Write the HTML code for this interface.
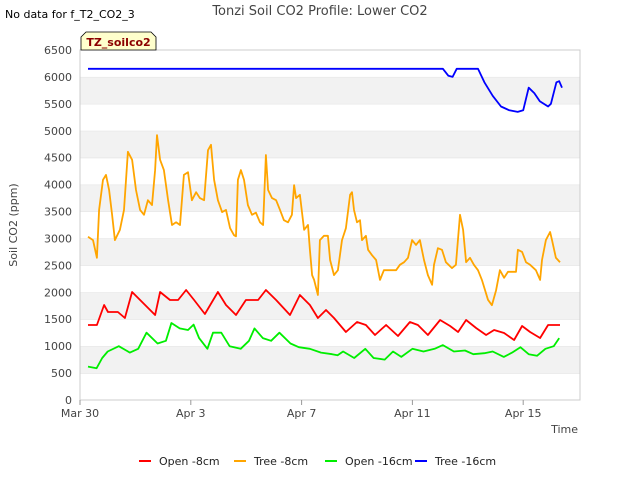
<!DOCTYPE html>
<html><head><meta charset="utf-8"><style>
body{margin:0;background:#fff;font-family:"DejaVu Sans","Liberation Sans",sans-serif;}
</style></head><body>
<svg id="chart" width="640" height="480" viewBox="0 0 640 480" xmlns="http://www.w3.org/2000/svg" font-family="DejaVu Sans, Liberation Sans, sans-serif">
<text x="5" y="18" font-size="11" fill="#000">No data for f_T2_CO2_3</text>
<text x="320" y="15" font-size="13" fill="#444" text-anchor="middle">Tonzi Soil CO2 Profile: Lower CO2</text>
<g id="bands"></g>
<rect x="80" y="50" width="500" height="350" fill="none" stroke="#ccc"/>
<g id="yticks"></g><g id="xticks"></g>
<g id="series"></g>
<g>
<path d="M81,50 L81,37 L86,32 L151,32 L156,37 L156,50 Z" fill="#ffffcc" stroke="#000" stroke-width="0.8"/>
<text x="118.5" y="46" font-size="11" font-weight="bold" fill="#8b0000" text-anchor="middle">TZ_soilco2</text>
</g>
<text transform="translate(17,225) rotate(-90)" font-size="11" fill="#444" text-anchor="middle">Soil CO2 (ppm)</text>
<text x="578" y="433" font-size="11" fill="#444" text-anchor="end">Time</text>
<g id="legend"></g>
</svg>
<script>
const yTicks=[0,500,1000,1500,2000,2500,3000,3500,4000,4500,5000,5500,6000,6500];
const xTickDays=[0,4,8,12,16];
const xTickLabels=["Mar 30","Apr 3","Apr 7","Apr 11","Apr 15"];
const seriesNames=["Open -8cm","Tree -8cm","Open -16cm","Tree -16cm"];
const seriesColors=["#ff0000","#ffa500","#00ee00","#0000ff"];
const redDays=[0.29,0.61,0.87,1.01,1.37,1.62,1.88,2.17,2.53,2.71,2.89,3.25,3.54,3.83,4.12,4.51,4.98,5.27,5.63,5.99,6.43,6.71,7.08,7.58,7.94,8.3,8.59,8.88,9.17,9.6,10,10.32,10.65,11.05,11.48,11.91,12.2,12.56,13,13.36,13.65,13.94,14.3,14.66,14.95,15.31,15.67,15.96,16.25,16.61,16.9,17.33];
const redVals=[1393,1393,1764,1634,1634,1523,2006,1857,1671,1578,2006,1857,1857,2043,1857,1597,2006,1764,1578,1857,1857,2043,1857,1578,1950,1764,1523,1671,1523,1263,1448,1393,1207,1393,1188,1448,1393,1207,1486,1374,1263,1486,1337,1207,1300,1244,1114,1374,1263,1151,1393,1393];
const orangeDays=[0.29,0.47,0.61,0.69,0.83,0.94,1.05,1.16,1.26,1.44,1.59,1.73,1.88,2.02,2.17,2.31,2.45,2.6,2.71,2.78,2.89,3.03,3.18,3.32,3.47,3.61,3.75,3.9,4.04,4.19,4.33,4.48,4.62,4.73,4.84,4.98,5.13,5.27,5.42,5.56,5.63,5.7,5.81,5.92,6.06,6.21,6.35,6.5,6.61,6.71,6.79,6.93,7.08,7.22,7.36,7.51,7.65,7.73,7.8,7.94,8.09,8.23,8.3,8.38,8.45,8.59,8.66,8.81,8.95,9.03,9.17,9.31,9.46,9.6,9.75,9.82,9.89,10,10.11,10.18,10.32,10.4,10.54,10.69,10.83,10.97,11.19,11.41,11.55,11.7,11.84,11.99,12.13,12.27,12.42,12.56,12.71,12.78,12.92,13.07,13.21,13.43,13.57,13.72,13.83,13.94,14.08,14.22,14.37,14.51,14.73,14.87,15.02,15.16,15.31,15.45,15.6,15.74,15.81,15.96,16.1,16.25,16.46,16.61,16.68,16.82,16.97,17.04,17.18,17.33];
const orangeVals=[3030,2970,2640,3530,4090,4180,3900,3440,2970,3160,3530,4610,4460,3900,3530,3440,3710,3620,4270,4920,4460,4270,3710,3250,3300,3250,4180,4230,3710,3860,3750,3710,4640,4740,4090,3710,3490,3530,3190,3060,3040,4090,4270,4090,3620,3440,3480,3300,3250,4550,3900,3750,3710,3530,3340,3300,3440,3990,3750,3810,3160,3250,2790,2320,2230,1950,2970,3050,3050,2600,2320,2410,2970,3190,3810,3860,3530,3300,3340,2970,3050,2790,2690,2600,2230,2410,2410,2410,2510,2560,2640,2970,2880,2970,2600,2320,2140,2510,2820,2790,2560,2450,2510,3440,3160,2560,2640,2510,2410,2230,1860,1760,2040,2410,2270,2380,2380,2380,2790,2750,2560,2510,2410,2230,2600,2970,3120,2970,2640,2560];
const greenDays=[0.29,0.6,0.8,1.0,1.4,1.8,2.1,2.4,2.8,3.1,3.3,3.6,3.9,4.1,4.3,4.6,4.8,5.1,5.4,5.8,6.1,6.3,6.6,6.9,7.2,7.6,7.9,8.3,8.7,9.1,9.3,9.5,9.9,10.3,10.6,11.0,11.3,11.6,12.0,12.4,12.8,13.1,13.5,13.9,14.2,14.6,14.9,15.3,15.6,15.9,16.2,16.5,16.8,17.1,17.3];
const greenVals=[620,590,780,900,1000,880,950,1250,1050,1100,1430,1330,1300,1400,1150,950,1250,1250,1000,950,1100,1330,1150,1100,1250,1050,980,950,880,850,830,900,780,950,780,750,900,800,950,900,950,1020,900,920,850,870,900,800,880,980,850,820,950,1000,1150];
const blueDays=[0.29,13.1,13.3,13.45,13.6,14.37,14.6,14.9,15.2,15.5,15.8,16.0,16.2,16.4,16.6,16.9,17.0,17.2,17.3,17.4];
const blueVals=[6150,6150,6020,6000,6150,6150,5900,5650,5450,5380,5350,5380,5800,5700,5550,5450,5500,5900,5920,5800];

const X0=80,X1=580,Y0=400,Y1=50,dayPx=27.7,YMAX=6500;
const xs=d=>X0+d*dayPx;
const ys=v=>Y0-(v/YMAX)*(Y0-Y1);
const NS="http://www.w3.org/2000/svg";
function mk(tag,attrs,parent){const e=document.createElementNS(NS,tag);for(const k in attrs)e.setAttribute(k,attrs[k]);parent.appendChild(e);return e;}
const bands=document.getElementById('bands');
for(let i=0;i<yTicks.length-1;i++){
  const top=ys(yTicks[i+1]),bot=ys(yTicks[i]);
  const r=mk('rect',{x:X0,y:top,width:X1-X0,height:bot-top,fill:(i%2===1)?'#f2f2f2':'#ffffff'},bands);
  
  
  const l=mk('line',{x1:X0,x2:X1,y1:top,y2:top,stroke:'#e0e0e0'},bands);
  
  
}
const yt=document.getElementById('yticks');
yTicks.forEach(v=>{
  const t=mk('text',{x:72,y:ys(v)+4,'font-size':11,fill:'#444','text-anchor':'end'},yt);
  t.textContent=v;
  
  
});
const xt=document.getElementById('xticks');
xTickDays.forEach((d,i)=>{
  const l=mk('line',{x1:xs(d),x2:xs(d),y1:Y0,y2:Y0+5,stroke:'#999'},xt);
  
  
  const t=mk('text',{x:xs(d),y:Y0+17,'font-size':11,fill:'#444','text-anchor':'middle'},xt);
  t.textContent=xTickLabels[i];
  
  
});
const sg=document.getElementById('series');
const allDays=[redDays,orangeDays,greenDays,blueDays];
const allVals=[redVals,orangeVals,greenVals,blueVals];
const snames=['series-open-8cm','series-tree-8cm','series-open-16cm','series-tree-16cm'];
for(let s=0;s<4;s++){
  const pts=allDays[s].map((d,i)=>xs(d).toFixed(1)+','+ys(allVals[s][i]).toFixed(1)).join(' ');
  const p=mk('polyline',{points:pts,fill:'none',stroke:seriesColors[s],'stroke-width':1.8,'stroke-linejoin':'round'},sg);
  
  
}
const lg=document.getElementById('legend');
const lx=[139,234,325,415];
seriesNames.forEach((n,i)=>{
  const g=mk('g',{},lg);
  
  
  mk('line',{x1:lx[i],x2:lx[i]+12,y1:461,y2:461,stroke:seriesColors[i],'stroke-width':2},g);
  const t=mk('text',{x:lx[i]+20,y:465,'font-size':11,fill:'#222'},g);
  t.textContent=n;
});
</script>
</body></html>
